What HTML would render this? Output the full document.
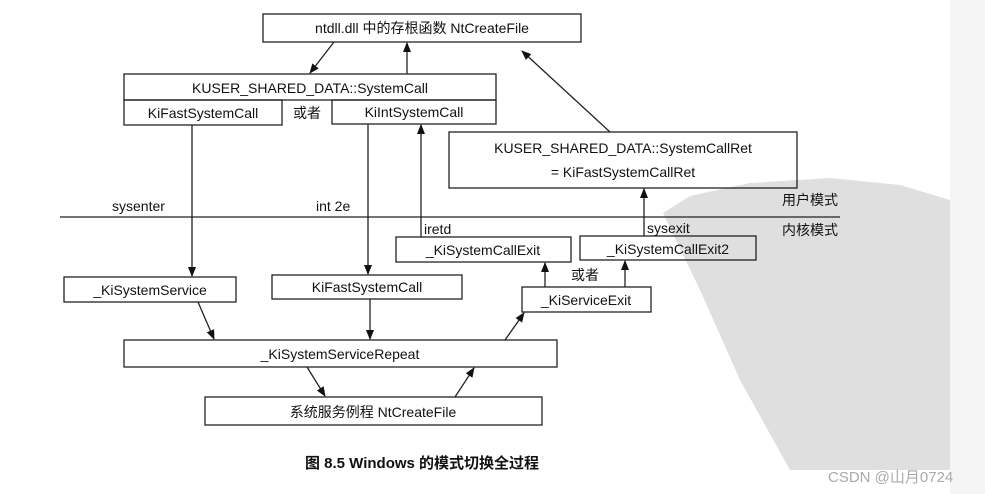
<!DOCTYPE html>
<html><head><meta charset="utf-8"><style>
html,body{margin:0;padding:0;background:#fff;}
svg{display:block;}
text{font-family:"Liberation Sans","Noto Sans CJK SC",sans-serif;font-size:14px;fill:#111;}
</style></head><body>
<svg width="985" height="494" viewBox="0 0 985 494" xmlns="http://www.w3.org/2000/svg">
<defs><marker id="a" markerWidth="10" markerHeight="10" refX="9" refY="5" orient="auto" markerUnits="userSpaceOnUse"><path d="M0,1 L10,5 L0,9 z" fill="#111"/></marker></defs>
<rect x="950" y="0" width="35" height="494" fill="#f5f5f5"/>
<path d="M663,213 L690,196 L750,183 L830,178 L900,185 L950,200 L950,470 L790,470 L740,380 L700,290 Z" fill="#dfdfdf"/>
<g fill="none" stroke="#222" stroke-width="1.3">
<rect x="263" y="14" width="318" height="28"/>
<rect x="124" y="74" width="372" height="26"/>
<rect x="124" y="100" width="158" height="25"/>
<rect x="332" y="100" width="164" height="24"/>
<rect x="449" y="132" width="348" height="56"/>
<rect x="396" y="237" width="175" height="25"/>
<rect x="580" y="236" width="176" height="24"/>
<rect x="522" y="287" width="129" height="25"/>
<rect x="64" y="277" width="172" height="25"/>
<rect x="272" y="275" width="190" height="24"/>
<rect x="124" y="340" width="433" height="27"/>
<rect x="205" y="397" width="337" height="28"/>
<line x1="60" y1="217" x2="840" y2="217"/>
<line x1="334" y1="42" x2="310" y2="73" marker-end="url(#a)"/>
<line x1="407" y1="74" x2="407" y2="43" marker-end="url(#a)"/>
<line x1="610" y1="132" x2="522" y2="51" marker-end="url(#a)"/>
<line x1="192" y1="125" x2="192" y2="276" marker-end="url(#a)"/>
<line x1="368" y1="124" x2="368" y2="274" marker-end="url(#a)"/>
<line x1="421" y1="237" x2="421" y2="125" marker-end="url(#a)"/>
<line x1="644" y1="236" x2="644" y2="189" marker-end="url(#a)"/>
<line x1="545" y1="287" x2="545" y2="263" marker-end="url(#a)"/>
<line x1="625" y1="287" x2="625" y2="261" marker-end="url(#a)"/>
<line x1="198" y1="302" x2="214" y2="339" marker-end="url(#a)"/>
<line x1="370" y1="299" x2="370" y2="339" marker-end="url(#a)"/>
<line x1="505" y1="340" x2="524" y2="313" marker-end="url(#a)"/>
<line x1="307" y1="367" x2="325" y2="396" marker-end="url(#a)"/>
<line x1="455" y1="397" x2="474" y2="368" marker-end="url(#a)"/>
</g>
<text x="422" y="33" text-anchor="middle">ntdll.dll 中的存根函数 NtCreateFile</text>
<text x="310" y="93" text-anchor="middle">KUSER_SHARED_DATA::SystemCall</text>
<text x="203" y="118" text-anchor="middle">KiFastSystemCall</text>
<text x="307" y="118" text-anchor="middle">或者</text>
<text x="414" y="117" text-anchor="middle">KiIntSystemCall</text>
<text x="623" y="153" text-anchor="middle">KUSER_SHARED_DATA::SystemCallRet</text>
<text x="623" y="177" text-anchor="middle">= KiFastSystemCallRet</text>
<text x="838" y="205" text-anchor="end">用户模式</text>
<text x="838" y="235" text-anchor="end">内核模式</text>
<text x="112" y="211">sysenter</text>
<text x="316" y="211">int 2e</text>
<text x="424" y="234">iretd</text>
<text x="647" y="233">sysexit</text>
<text x="483" y="255" text-anchor="middle">_KiSystemCallExit</text>
<text x="668" y="254" text-anchor="middle">_KiSystemCallExit2</text>
<text x="585" y="280" text-anchor="middle">或者</text>
<text x="586" y="305" text-anchor="middle">_KiServiceExit</text>
<text x="150" y="295" text-anchor="middle">_KiSystemService</text>
<text x="367" y="292" text-anchor="middle">KiFastSystemCall</text>
<text x="340" y="359" text-anchor="middle">_KiSystemServiceRepeat</text>
<text x="373" y="417" text-anchor="middle">系统服务例程 NtCreateFile</text>
<text x="305" y="468" font-weight="bold" style="font-size:15px">图 8.5  Windows 的模式切换全过程</text>
<text x="828" y="482" style="fill:#aaa;font-size:15px">CSDN @山月0724</text>
</svg>
</body></html>
